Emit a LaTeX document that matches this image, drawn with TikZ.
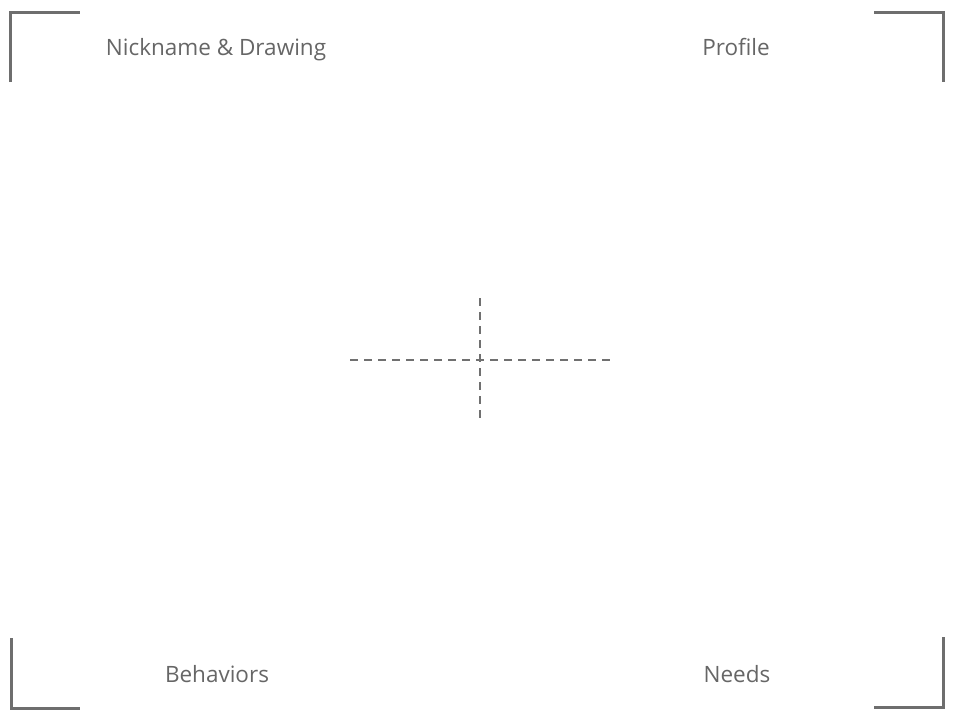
\documentclass[tikz,border=0pt]{standalone}
\usepackage{fontspec}
\setmainfont{Open Sans}
\definecolor{framegray}{HTML}{6E6E6E}
\definecolor{textgray}{HTML}{666666}
\definecolor{crossgray}{HTML}{707070}
\begin{document}
\begin{tikzpicture}[x=1pt,y=-1pt,
  bracket/.style={draw=framegray,line width=3pt},
  label/.style={text=textgray,font=\fontsize{22.5}{27}\selectfont,inner sep=0pt,anchor=base},
  crossline/.style={draw=crossgray,line width=1.7pt,dash pattern=on 8pt off 6pt}]
\useasboundingbox (0,0) rectangle (960,720);
% corner brackets
\coordinate (tl1) at (10,82); \coordinate (tl2) at (10,12); \coordinate (tl3) at (80,12);
\coordinate (tr1) at (874,12); \coordinate (tr2) at (943,12); \coordinate (tr3) at (943,82);
\coordinate (bl1) at (11,638); \coordinate (bl2) at (11,708); \coordinate (bl3) at (80,708);
\coordinate (br1) at (874,707); \coordinate (br2) at (943,707); \coordinate (br3) at (943,637);
\draw[bracket] (tl1) -- (tl2) -- (tl3);
\draw[bracket] (tr1) -- (tr2) -- (tr3);
\draw[bracket] (bl1) -- (bl2) -- (bl3);
\draw[bracket] (br1) -- (br2) -- (br3);
% labels
\node[label] (nick) at (216,55) {Nickname \& Drawing};
\node[label] (prof) at (736,55) {Profile};
\node[label] (beh) at (217,682) {Behaviors};
\node[label] (need) at (737,682) {Needs};
% dashed cross
\coordinate (hl) at (350,360); \coordinate (hr) at (610,360);
\coordinate (vt) at (480,298); \coordinate (vb) at (480,418);
\draw[crossline] (hl) -- (hr);
\draw[crossline] (vt) -- (vb);
\end{tikzpicture}
\end{document}
